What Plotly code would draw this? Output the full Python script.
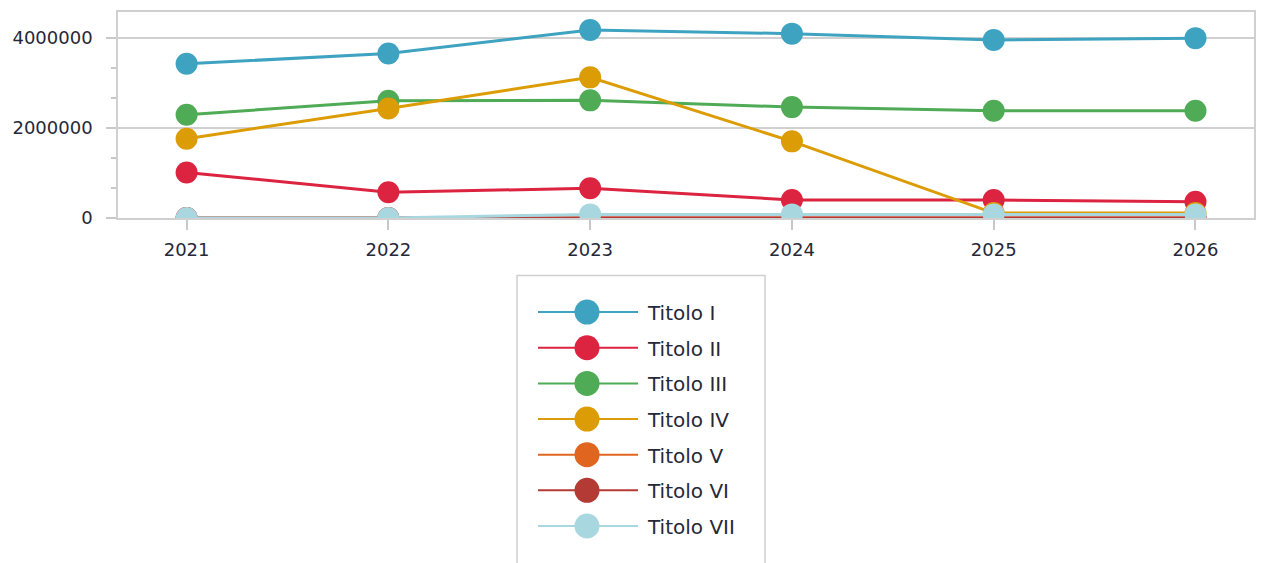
import plotly.graph_objects as go

years = [2021, 2022, 2023, 2024, 2025, 2026]
series_names = ["Titolo I", "Titolo II", "Titolo III", "Titolo IV", "Titolo V", "Titolo VI", "Titolo VII"]
titolo_1 = [3420000, 3650000, 4170000, 4090000, 3950000, 3990000]
titolo_2 = [1010000, 570000, 660000, 400000, 400000, 360000]
titolo_3 = [2290000, 2600000, 2610000, 2460000, 2380000, 2380000]
titolo_4 = [1760000, 2430000, 3120000, 1700000, 110000, 110000]
titolo_5 = [0, 0, 0, 0, 0, 0]
titolo_6 = [0, 0, 0, 0, 0, 0]
titolo_7 = [0, 0, 80000, 80000, 80000, 80000]
colors = ["#3ea3c1", "#dc2340", "#4fab55", "#dc9c05", "#e0651f", "#b43a36", "#a9d7e0"]

data = [titolo_1, titolo_2, titolo_3, titolo_4, titolo_5, titolo_6, titolo_7]

W, H = 1266, 563
ML, MR, MT, MB = 118, 12, 10, 345
PW, PH = W - ML - MR, H - MT - MB
FONT = "DejaVu Sans, Verdana, sans-serif"
TXT = "#262838"


def px_x(px):
    return (px - ML) / PW


def px_y(py):
    return (H - MB - py) / PH


fig = go.Figure()
for i in range(len(data)):
    fig.add_trace(go.Scatter(
        x=years, y=data[i], name=series_names[i], mode="lines+markers",
        line=dict(color=colors[i], width=3),
        marker=dict(color=colors[i], size=22),
        cliponaxis=True, showlegend=False,
    ))

# custom legend (box, line + marker samples, labels)
shapes = []
annotations = []
shapes.append(dict(type="rect", xref="paper", yref="paper",
                   x0=px_x(517), x1=px_x(765), y0=px_y(276), y1=px_y(600),
                   line=dict(color="#d0d0d0", width=1.5), fillcolor="rgba(0,0,0,0)", layer="above"))
for i, name in enumerate(series_names):
    cy = 313 + 36 * i
    shapes.append(dict(type="line", xref="paper", yref="paper",
                       x0=px_x(538), x1=px_x(638), y0=px_y(cy), y1=px_y(cy),
                       line=dict(color=colors[i], width=2), layer="above"))
    shapes.append(dict(type="circle", xref="paper", yref="paper",
                       xsizemode="pixel", ysizemode="pixel",
                       xanchor=px_x(587), yanchor=px_y(cy),
                       x0=-12.5, x1=12.5, y0=-12.5, y1=12.5,
                       fillcolor=colors[i], line=dict(width=0), layer="above"))
    annotations.append(dict(xref="paper", yref="paper", x=px_x(645), y=px_y(cy + 1),
                            xanchor="left", yanchor="middle", text=name, showarrow=False,
                            font=dict(family=FONT, size=20, color=TXT)))

fig.update_layout(
    width=W, height=H,
    margin=dict(l=ML, r=MR, t=MT, b=MB),
    paper_bgcolor="white", plot_bgcolor="white",
    font=dict(family=FONT, color=TXT, size=18),
    showlegend=False,
    shapes=shapes, annotations=annotations,
)
fig.update_xaxes(
    range=[2020.66, 2026.29], tickvals=years, ticktext=[str(y) for y in years],
    showgrid=False, showline=True, mirror=True, linecolor="#d0d0d0", linewidth=1.5,
    ticks="outside", ticklen=10, tickcolor="#c8c8c8", tickwidth=1.5, zeroline=False,
    ticklabelstandoff=5,
    tickfont=dict(size=18, family=FONT, color=TXT),
)
fig.update_yaxes(
    range=[0, 4570000], tickvals=[0, 2000000, 4000000], tickformat="d",
    showgrid=True, gridcolor="#d0d0d0", gridwidth=1.5,
    showline=True, mirror=True, linecolor="#d0d0d0", linewidth=1.5,
    ticks="outside", ticklen=10, tickcolor="#c8c8c8", tickwidth=1.5, zeroline=False,
    ticklabelstandoff=10,
    minor=dict(dtick=2000000 / 3, tick0=0, ticks="outside", ticklen=5, tickcolor="#c8c8c8", showgrid=False),
    tickfont=dict(size=18, family=FONT, color=TXT),
)
fig.write_html("out.html", config={"displayModeBar": False},
               post_script="document.body.style.margin='0px';")
